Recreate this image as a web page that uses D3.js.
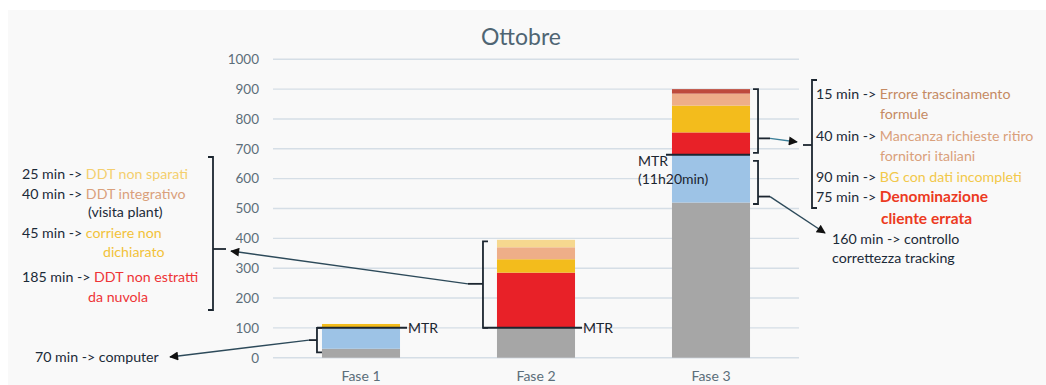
<!DOCTYPE html>
<html>
<head>
<meta charset="utf-8">
<script src="https://cdn.jsdelivr.net/npm/d3@7"></script>
<style>
  body { margin: 0; background: #fff; }
  svg { display: block; font-family: Lato, "Open Sans", sans-serif; }
</style>
</head>
<body>
<svg id="chart" width="1046" height="385"></svg>
<script>
// Minuti per fase, dal basso verso l'alto di ogni colonna
const categories = ["Fase 1", "Fase 2", "Fase 3"];
const grigio   = [30, 100, 520];   // base
const blu      = [70, 0, 160];     // computer / controllo tracking
const rosso    = [0, 185, 75];
const giallo   = [13, 45, 90];
const salmone  = [0, 40, 40];
const giallino = [0, 25, 0];
const bordeaux = [0, 0, 15];
const mtr      = [100, 100, 680];
const mtrLabels = [["MTR"], ["MTR"], ["MTR", "(11h20min)"]];
const yTicks = [0, 100, 200, 300, 400, 500, 600, 700, 800, 900, 1000];
const titolo = "Ottobre";

const seriesKeys = ["grigio", "blu", "rosso", "giallo", "salmone", "giallino", "bordeaux"];
const seriesData = { grigio, blu, rosso, giallo, salmone, giallino, bordeaux };
const colors = {
  grigio: "#A6A6A6", blu: "#9DC3E6", rosso: "#E82128", giallo: "#F3BC1C",
  salmone: "#EEAE88", giallino: "#F6D88F", bordeaux: "#BE4B3C"
};

const rows = categories.map((c, i) => {
  const r = { fase: c };
  seriesKeys.forEach(k => r[k] = seriesData[k][i]);
  return r;
});

const svg = d3.select("#chart");
const W = 1046, H = 385;

// pannello di sfondo
svg.append("rect").attr("x", 8).attr("y", 10).attr("width", W - 8).attr("height", H - 10)
  .attr("fill", "#F9F9F9");

const x = d3.scaleBand().domain(categories).range([273.5, 798.5])
  .paddingInner(0.554).paddingOuter(0.277);
const y = d3.scaleLinear().domain([0, 1000]).range([357.7, 59.3]);

// griglia
svg.append("g").selectAll("line").data(yTicks).join("line")
  .attr("x1", 273).attr("x2", 799)
  .attr("y1", d => y(d)).attr("y2", d => y(d))
  .attr("stroke", "#D5DEE6").attr("stroke-width", 1.4);

// asse Y
const yAxis = d3.axisLeft(y).tickValues(yTicks).tickSize(0).tickPadding(0).tickFormat(d3.format("d"));
const gy = svg.append("g").attr("transform", "translate(259,0)").call(yAxis);
gy.select(".domain").remove();
gy.selectAll("text").attr("fill", "#5C6E7A").style("font-size", "13.5px")
  .style("font-family", "Lato, sans-serif");

// asse X
const xAxis = d3.axisBottom(x).tickSize(0).tickPadding(0);
const gx = svg.append("g").attr("transform", "translate(0,371)").call(xAxis);
gx.select(".domain").remove();
gx.selectAll("text").attr("fill", "#5C6E7A").style("font-size", "14px")
  .style("font-family", "Lato, sans-serif");

// titolo
svg.append("text").attr("x", 521).attr("y", 45).attr("text-anchor", "middle")
  .attr("fill", "#4F6573").style("font-size", "23px").text(titolo);

// colonne impilate
const stack = d3.stack().keys(seriesKeys)(rows);
svg.append("g").selectAll("g").data(stack).join("g")
  .attr("fill", d => colors[d.key])
  .selectAll("rect").data(d => d).join("rect")
  .attr("x", d => x(d.data.fase))
  .attr("width", x.bandwidth())
  .attr("y", d => y(d[1]))
  .attr("height", d => y(d[0]) - y(d[1]));

const ink = "#1C2630";
const lineCol = "#2D4A5A";

// frecce
const defs = svg.append("defs");
defs.append("marker").attr("id", "arrow").attr("viewBox", "0 0 10 10")
  .attr("refX", 9).attr("refY", 5).attr("markerWidth", 11).attr("markerHeight", 9)
  .attr("markerUnits", "userSpaceOnUse").attr("orient", "auto")
  .append("path").attr("d", "M0,0 L10,5 L0,10 Z").attr("fill", "#111");

// linee MTR
const mtrG = svg.append("g");
categories.forEach((c, i) => {
  const yy = y(mtr[i]);
  const bx = x(c), bw = x.bandwidth();
  let x1 = bx - 5, x2 = bx + bw + 7;
  if (i === 1) { x1 = bx - 14; x2 = bx + bw + 7; }
  if (i === 2) { x1 = bx - 6; x2 = bx + bw; }
  mtrG.append("line").attr("x1", x1).attr("x2", x2).attr("y1", yy).attr("y2", yy)
    .attr("stroke", ink).attr("stroke-width", 2);
  const lbl = mtrLabels[i];
  if (i < 2) {
    mtrG.append("text").attr("x", x2 + 1).attr("y", yy + 5).attr("fill", ink)
      .style("font-size", "14px").text(lbl[0]);
  } else {
    mtrG.append("text").attr("x", bx - 34).attr("y", yy + 11).attr("fill", ink)
      .style("font-size", "14px").text(lbl[0]);
    mtrG.append("text").attr("x", bx - 34).attr("y", yy + 29).attr("fill", ink)
      .style("font-size", "14px").text(lbl[1]);
  }
});

// parentesi quadre con tacca
function bracket(xv, y1, y2, dir, tickY, tickLen) {
  // dir = +1: apertura verso destra "[" ; -1: "]"
  const s = 5 * dir;
  const p = `M${xv + s},${y1} L${xv},${y1} L${xv},${y2} L${xv + s},${y2}`;
  svg.append("path").attr("d", p).attr("fill", "none").attr("stroke", ink).attr("stroke-width", 1.8);
  svg.append("line").attr("x1", xv).attr("x2", xv - dir * tickLen).attr("y1", tickY).attr("y2", tickY)
    .attr("stroke", ink).attr("stroke-width", 1.8);
  return [xv - dir * tickLen, tickY];
}
function arrow(p0, p1, col) {
  svg.append("line").attr("x1", p0[0]).attr("y1", p0[1]).attr("x2", p1[0]).attr("y2", p1[1])
    .attr("stroke", col).attr("stroke-width", 1.4).attr("marker-end", "url(#arrow)");
}

const f1 = categories[0], f2 = categories[1], f3 = categories[2];
const tot = i => seriesKeys.reduce((s, k) => s + seriesData[k][i], 0);

// Fase 1: computer
const b1 = bracket(x(f1) - 5, y(mtr[0]), y(18), 1, (y(mtr[0]) + y(18)) / 2, 8);
arrow(b1, [170, 357], lineCol);

// Fase 2
const b2 = bracket(x(f2) - 14, y(tot(1) - 5), y(mtr[1]), 1, (y(tot(1)) + y(mtr[1])) / 2, 15);
arrow(b2, [231, 251], lineCol);

// Fase 3 (sopra e sotto MTR)
const bx3 = x(f3) + x.bandwidth() + 8;
const b3a = bracket(bx3, y(tot(2)), y(mtr[2]) - 2, -1, y(735), 12);
arrow(b3a, [797, 142], "#3C7F99");
const b3b = bracket(bx3, y(mtr[2]) + 6, y(grigio[2] - 5), -1, y(540), 12);
arrow(b3b, [825, 233], lineCol);

// parentesi di raggruppamento delle note
svg.append("path").attr("d", "M208,157 L213,157 L213,310 L208,310").attr("fill", "none")
  .attr("stroke", ink).attr("stroke-width", 1.8);
svg.append("line").attr("x1", 213).attr("x2", 226).attr("y1", 249).attr("y2", 249)
  .attr("stroke", ink).attr("stroke-width", 1.8);
svg.append("path").attr("d", "M817,80 L812,80 L812,208 L817,208").attr("fill", "none")
  .attr("stroke", ink).attr("stroke-width", 1.8);
svg.append("line").attr("x1", 812).attr("x2", 803).attr("y1", 145).attr("y2", 145)
  .attr("stroke", ink).attr("stroke-width", 1.8);

// note testuali
const txtDark = "#1B2A38";
const leftNotes = [
  { x: 22, y: 179, parts: [["25 min -> ", txtDark], ["DDT non sparati", "#F4CF6E"]] },
  { x: 22, y: 198.5, parts: [["40 min -> ", txtDark], ["DDT integrativo", "#D9A07B"]] },
  { x: 88, y: 217, parts: [["(visita plant)", txtDark]] },
  { x: 22, y: 238, parts: [["45 min -> ", txtDark], ["corriere non", "#F2C23A"]] },
  { x: 103, y: 256.5, parts: [["dichiarato", "#F2C23A"]] },
  { x: 22, y: 282, parts: [["185 min -> ", txtDark], ["DDT non estratti", "#EE3436"]] },
  { x: 88, y: 302, parts: [["da nuvola", "#EE3436"]] },
  { x: 35, y: 362, parts: [["70 min -> computer", txtDark]] }
];
const rightNotes = [
  { x: 816, y: 99, parts: [["15 min -> ", txtDark], ["Errore trascinamento", "#C58A63"]] },
  { x: 880, y: 119, parts: [["formule", "#C58A63"]] },
  { x: 816, y: 141, parts: [["40 min -> ", txtDark], ["Mancanza richieste ritiro", "#D9A07B"]] },
  { x: 880, y: 161, parts: [["fornitori italiani", "#D9A07B"]] },
  { x: 816, y: 181.5, parts: [["90 min -> ", txtDark], ["BG con dati incompleti", "#F2C84A"]] },
  { x: 816, y: 202, parts: [["75 min -> ", txtDark], ["Denominazione", "#EC3A22", true]] },
  { x: 881, y: 224, parts: [["cliente errata", "#EC3A22", true]] },
  { x: 832, y: 243.5, parts: [["160 min -> controllo", txtDark]] },
  { x: 832, y: 263, parts: [["correttezza tracking", txtDark]] }
];
function drawNotes(notes) {
  notes.forEach(n => {
    const t = svg.append("text").attr("x", n.x).attr("y", n.y).style("font-size", "14.2px");
    n.parts.forEach(p => {
      const ts = t.append("tspan").attr("fill", p[1]).text(p[0]);
      if (p[2]) ts.style("font-weight", "bold").style("font-size", "15.5px");
    });
    t.attr("xml:space", "preserve").style("white-space", "pre");
  });
}
drawNotes(leftNotes);
drawNotes(rightNotes);
</script>
</body>
</html>
